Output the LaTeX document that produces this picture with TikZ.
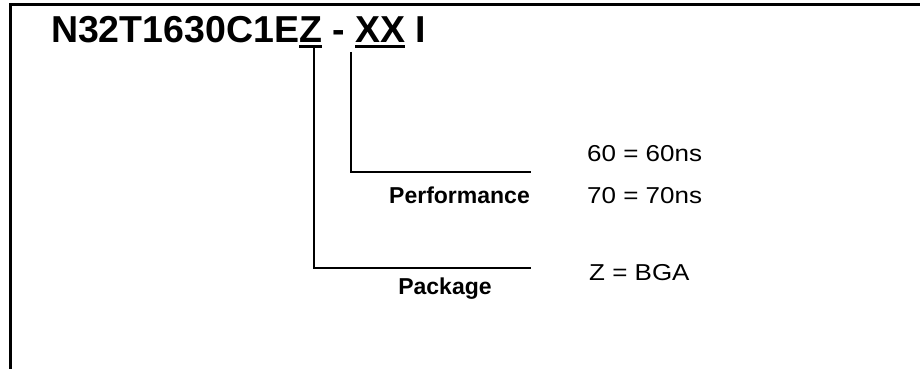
\documentclass[tikz,border=0pt]{standalone}
\usepackage{fontspec}
\setmainfont{Liberation Sans}
\newfontfamily\widefont[FakeStretch=1.13]{Liberation Sans}
\begin{document}
\begin{tikzpicture}[
    x=1pt, y=1pt,
    frame/.style={line width=3pt},
    title/.style={inner sep=0pt, outer sep=0pt, anchor=base west, font=\fontsize{37.5}{44}\selectfont\bfseries},
    uline/.style={line width=3pt},
    lead/.style={line width=2pt},
    field/.style={inner sep=0pt, font=\fontsize{23}{27}\selectfont\bfseries},
    value/.style={inner sep=0pt, anchor=base west, font=\fontsize{23}{28}\selectfont\widefont}
  ]
    \useasboundingbox (0,0) rectangle (920,-369);
    % Frame
    \draw[frame] (920,-4.5) -| (10.5,-369);

    % Part number
    \node[title] (base) at (51,-43) {N32T1630C1E};
    \node[title] (pkg) at (base.base east) {Z};
    \node[title] (dash) at (pkg.base east) {\null\ -\ \null};
    \node[title] (speed) at (dash.base east) {XX};
    \node[title] (grade) at (speed.base east) {\null\ I};
    \draw[uline] ([yshift=-3.5pt]pkg.south west) -- ([yshift=-3.5pt]pkg.south east);
    \draw[uline] ([yshift=-3.5pt]speed.south west) -- ([yshift=-3.5pt]speed.south east);

    % Performance
    \coordinate (perfend) at (531,-172);
    \draw[lead] ([xshift=-4pt,yshift=-9pt]speed.south west) |- (perfend);
    \node[field, anchor=base east] (perf) at (530,-203) {Performance};
    \node[value] (v60) at (587,-161) {60 = 60ns};
    \node[value] (v70) at (587,-203) {70 = 70ns};

    % Package
    \coordinate (pkgend) at (531,-268);
    \draw[lead] ([xshift=3pt,yshift=-3.5pt]pkg.south) |- (pkgend);
    \node[field, anchor=base] (pkglabel) at (445,-294) {Package};
    \node[value] (bga) at (589,-280) {Z = BGA};
  \end{tikzpicture}
\end{document}
